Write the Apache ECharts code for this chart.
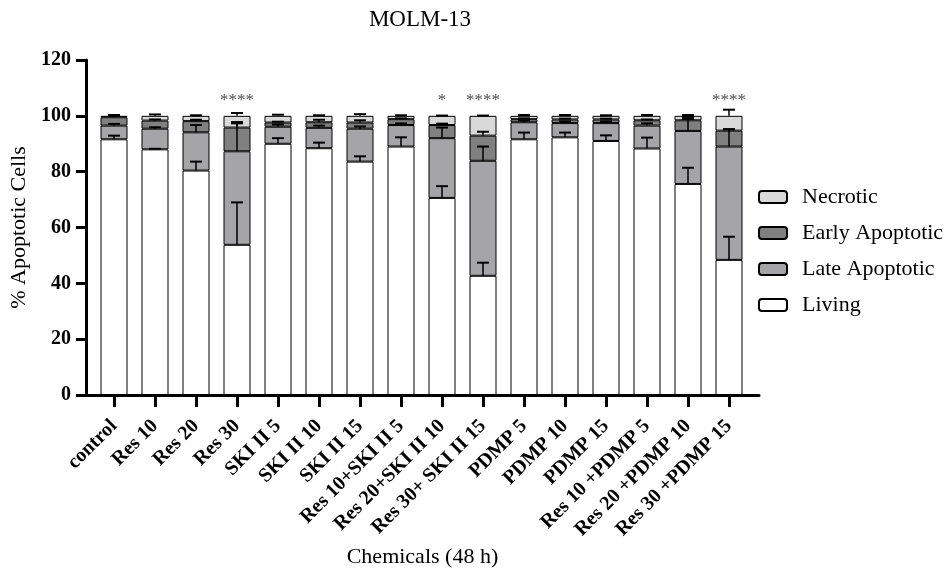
<!DOCTYPE html>
<html>
<head>
<meta charset="utf-8">
<script src="https://cdn.jsdelivr.net/npm/echarts@6/dist/echarts.min.js"></script>
<style>
html,body{margin:0;padding:0;background:#fff;}
#chart{width:947px;height:577px;}
</style>
</head>
<body>
<div id="chart"></div>
<script>
const categories = ['control','Res 10','Res 20','Res 30','SKI II 5','SKI II 10','SKI II 15','Res 10+SKI II 5','Res 20+SKI II 10','Res 30+ SKI II 15','PDMP 5','PDMP 10','PDMP 15','Res 10 +PDMP 5','Res 20 +PDMP 10','Res 30 +PDMP 15'];
const living    = [91.6, 88.0, 80.4, 53.8, 90.0, 88.4, 83.6, 89.0, 70.6, 42.7, 91.6, 92.3, 91.0, 88.3, 75.6, 48.4];
const late      = [4.9, 7.4, 13.7, 33.5, 6.1, 7.3, 11.8, 7.7, 21.4, 41.2, 6.1, 5.1, 6.4, 8.2, 19.0, 40.6];
const early     = [3.0, 2.9, 4.0, 8.5, 1.5, 2.0, 2.2, 2.1, 4.7, 9.0, 1.1, 1.3, 1.3, 1.9, 3.8, 5.7];
const necrotic  = [0.5, 1.7, 1.9, 4.2, 2.4, 2.3, 2.4, 1.2, 3.3, 7.1, 1.2, 1.3, 1.3, 1.6, 1.6, 5.3];
const livingErr = [1.3, 0.2, 3.2, 15.2, 2.0, 2.0, 1.9, 3.3, 4.2, 4.7, 2.4, 1.7, 2.0, 3.9, 5.8, 8.3];
const lateErr   = [0.6, 0.5, 2.6, 10.5, 0.8, 0.8, 0.8, 0.6, 3.8, 5.1, 0.6, 0.6, 0.6, 0.8, 5.0, 6.2];
const earlyErr  = [0.7, 0.4, 0.5, 1.5, 0.3, 0.9, 0.8, 0.3, 0.5, 1.4, 0.3, 0.3, 0.3, 0.3, 0.5, 0.5];
const necroErr  = [0.3, 0.5, 0.2, 1.0, 0.4, 0.2, 0.6, 0.2, 0.1, 0.1, 0.3, 0.3, 0.2, 0.3, 0.3, 2.2];
const stars     = ['', '', '', '****', '', '', '', '', '*', '****', '', '', '', '', '', '****'];
const starLevel = 105.5;
const yTicks = [0, 20, 40, 60, 80, 100, 120];

const FONT = 'Liberation Serif';
const segs = [living, late, early, necrotic];
const errs = [livingErr, lateErr, earlyErr, necroErr];
const errData = [];
categories.forEach((c, i) => {
  let acc = 0;
  segs.forEach((s, k) => {
    acc += s[i];
    errData.push([i, acc, errs[k][i]]);
  });
});
const starData = [];
stars.forEach((s, i) => { if (s) starData.push({value: [i, starLevel], label: s}); });

const chart = echarts.init(document.getElementById('chart'), null, {renderer: 'canvas'});
const barCommon = {
  type: 'bar', stack: 'total', xAxisIndex: 1, yAxisIndex: 1, barWidth: 27,
  emphasis: {disabled: true}
};
const colors = {Living: '#ffffff', 'Late Apoptotic': '#a5a5a8', 'Early Apoptotic': '#808080', Necrotic: '#d9d9d9'};
const names = ['Living', 'Late Apoptotic', 'Early Apoptotic', 'Necrotic'];
const series = names.map((n, k) => Object.assign({}, barCommon, {
  name: n, data: segs[k],
  itemStyle: {color: colors[n], borderColor: '#000', borderWidth: 1}
}));
series.push({
  type: 'custom', xAxisIndex: 1, yAxisIndex: 1, z: 5, silent: true,
  data: errData,
  renderItem: function (params, api) {
    const i = api.value(0), top = api.value(1), e = api.value(2);
    const p0 = api.coord([i, top]);
    const p1 = api.coord([i, top + e]);
    const hw = 6;
    return {
      type: 'group',
      children: [
        {type: 'line', shape: {x1: p0[0], y1: p0[1], x2: p1[0], y2: p1[1]}, style: {stroke: '#000', lineWidth: 1.5}},
        {type: 'line', shape: {x1: p1[0] - hw, y1: p1[1], x2: p1[0] + hw, y2: p1[1]}, style: {stroke: '#000', lineWidth: 2}}
      ]
    };
  }
});
series.push({
  type: 'scatter', xAxisIndex: 1, yAxisIndex: 1, symbolSize: 0, silent: true,
  data: starData,
  label: {show: true, position: 'inside', formatter: p => p.data.label, fontFamily: FONT, fontSize: 17, color: '#222'}
});

chart.setOption({
  animation: false,
  backgroundColor: '#fff',
  title: {text: 'MOLM-13', left: 420, top: 8, padding: 0, textAlign: 'center',
    textStyle: {fontFamily: FONT, fontSize: 23, fontWeight: 'normal', color: '#000'}},
  legend: {
    orient: 'vertical', left: 758, top: 186, padding: 0, itemWidth: 28, itemHeight: 12, itemGap: 14,
    data: ['Necrotic', 'Early Apoptotic', 'Late Apoptotic', 'Living'],
    textStyle: {fontFamily: FONT, fontSize: 22, color: '#000', lineHeight: 22, padding: [0, 0, 0, 10]},
    selectedMode: false
  },
  grid: [
    {left: 85, top: 60, width: 674, height: 335},
    {left: 93.5, top: 60, width: 656, height: 335}
  ],
  xAxis: [
    {gridIndex: 0, type: 'value', min: 0, max: 1,
      axisLine: {show: true, onZero: false, lineStyle: {color: '#000', width: 3}},
      axisTick: {show: false}, axisLabel: {show: false}, splitLine: {show: false},
      name: 'Chemicals (48 h)', nameLocation: 'middle', nameGap: 151,
      nameTextStyle: {fontFamily: FONT, fontSize: 22, color: '#000'}},
    {gridIndex: 1, type: 'category', data: categories,
      axisLine: {show: true, lineStyle: {color: 'rgba(0,0,0,0)', width: 3}},
      axisTick: {show: true, alignWithLabel: true, length: 12, lineStyle: {color: '#000', width: 3}},
      axisLabel: {interval: 0, rotate: 45, margin: 28, fontFamily: FONT, fontSize: 20, fontWeight: 'bold', color: '#000'},
      splitLine: {show: false}}
  ],
  yAxis: [
    {gridIndex: 0, type: 'value', min: 0, max: 120, interval: 20,
      axisLine: {show: true, onZero: false, lineStyle: {color: '#000', width: 3}},
      axisTick: {show: true, length: 10, lineStyle: {color: '#000', width: 3}},
      axisLabel: {margin: 15, fontFamily: FONT, fontSize: 20, fontWeight: 'bold', color: '#000',
        formatter: v => yTicks.includes(v) ? String(v) : ''},
      splitLine: {show: false},
      name: '% Apoptotic Cells', nameLocation: 'middle', nameGap: 51, nameRotate: 90,
      nameTextStyle: {fontFamily: FONT, fontSize: 22, color: '#000'}},
    {gridIndex: 1, type: 'value', min: 0, max: 120, interval: 20, show: false}
  ],
  series: series
});
</script>
</body>
</html>
